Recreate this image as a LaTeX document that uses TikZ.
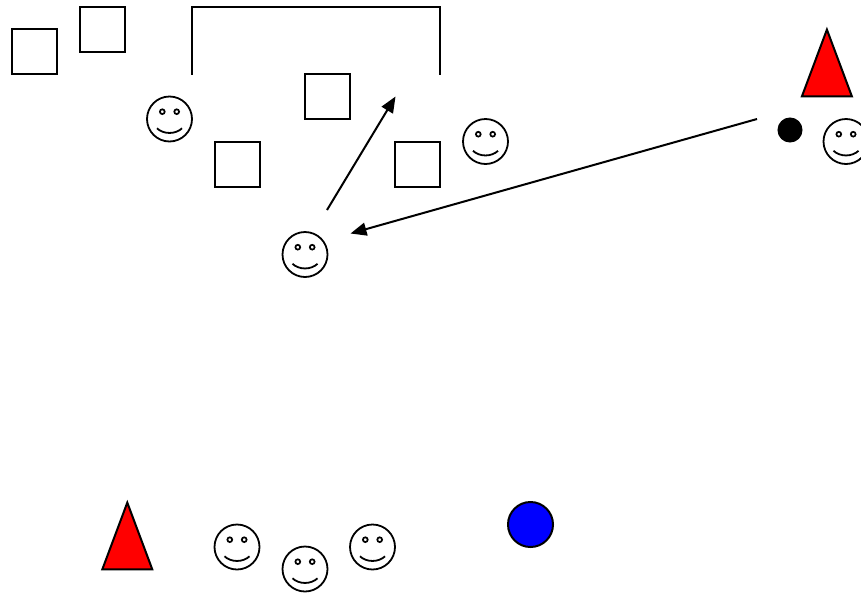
\documentclass[tikz,border=0pt]{standalone}
\usetikzlibrary{arrows.meta}
\tikzset{
  ln/.style={line width=2pt,line join=miter},
  sq/.style={ln,draw,rectangle,minimum size=45pt,inner sep=0pt,outer sep=0pt},
  disc/.style={ln,draw,circle,inner sep=0pt,outer sep=0pt},
  conn/.style={ln,-{Triangle[length=16pt,width=13pt]}},
  smiley/.pic={
    \draw[line width=1.8pt] (0,0) circle (22.5);
    \draw[line width=1.7pt] (-7.2,-7.3) circle (2.4) (7.2,-7.3) circle (2.4);
    \draw[line width=1.8pt] (-12.5,9.3) .. controls (-6,15.5) and (6,15.5) .. (12.5,9.3);
  },
  cone/.pic={
    \draw[ln,fill=red,miter limit=10] (0,0) -- (25,66.8) -- (-25,66.8) -- cycle;
  }
}
\begin{document}
\begin{tikzpicture}[x=1pt,y=-1pt]
\useasboundingbox (0,0) rectangle (861,592);
\clip (0,0) rectangle (861,592);
% squares
\node[sq] (s1) at (34,51) {};
\node[sq] (s2) at (102,29) {};
\node[sq] (s3) at (327.5,96.5) {};
\node[sq] (s4) at (237.5,164) {};
\node[sq] (s5) at (417.5,164) {};
% bracket
\draw[ln] (192.2,74.5) -- (192.2,6.6) -- (440.4,6.6) -- (440.4,74.5);
% faces
\foreach \n/\p in {f1/{169.5,119},f2/{485.5,141.5},f3/{305,254.5},f4/{846,141.5},f5/{237,547},f6/{305,569},f7/{372.5,547}}{
  \coordinate (\n) at (\p);
  \pic at (\n) {smiley};
}
% triangles
\pic at (826.9,29.6) {cone};
\pic at (127.3,502.6) {cone};
% discs
\node[disc,fill=black,minimum size=23pt] (d1) at (790,130) {};
\node[disc,fill=blue,minimum size=45pt] (d2) at (530.5,524.5) {};
% connectors
\coordinate (a1s) at (327,210);
\coordinate (a1e) at (395.5,96.5);
\coordinate (a2s) at (757,119);
\coordinate (a2e) at (350.5,233.5);
\draw[conn] (a1s) -- (a1e);
\draw[conn] (a2s) -- (a2e);
\end{tikzpicture}
\end{document}
